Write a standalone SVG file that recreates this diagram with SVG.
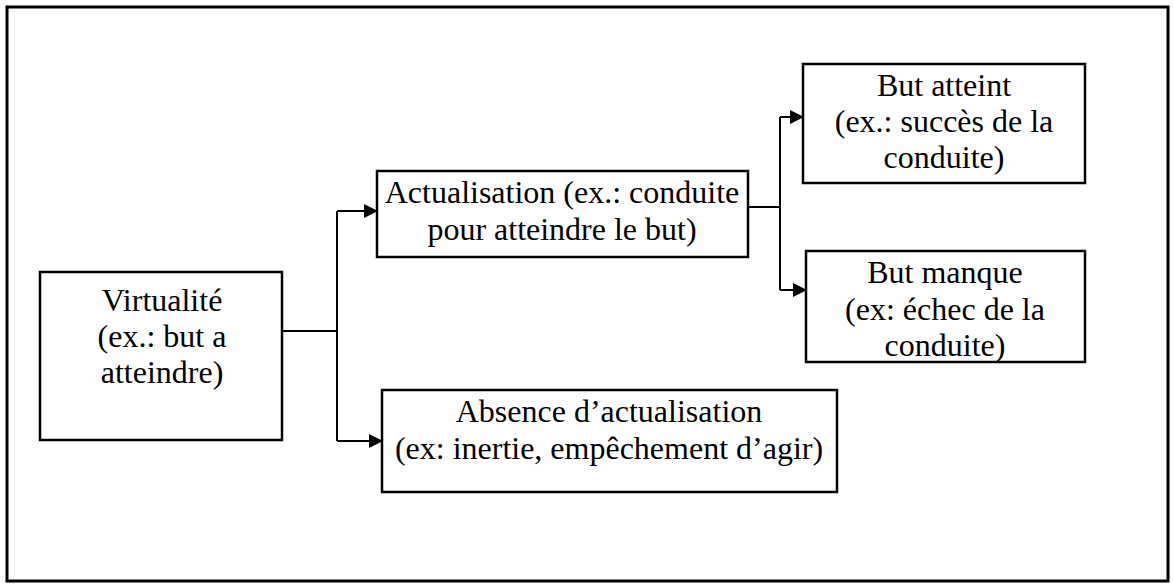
<svg xmlns="http://www.w3.org/2000/svg" width="1173" height="584" viewBox="0 0 1173 584">
  <style>
    .box { fill: #fff; stroke: #000; stroke-width: 2.5; }
    .lbl { font-family: "Liberation Serif", "Times New Roman", serif; font-size: 32px; fill: #000; text-anchor: middle; }
    .wire { fill: none; stroke: #000; stroke-width: 2; }
  </style>
  <defs>
    <marker id="arrow" markerWidth="14" markerHeight="14" refX="14" refY="7" orient="auto" markerUnits="userSpaceOnUse">
      <path d="M0,0 L14,7 L0,14 Z" fill="#000"/>
    </marker>
  </defs>

  <!-- page frame -->
  <rect x="7" y="7" width="1161" height="574" fill="#fff" stroke="#000" stroke-width="3"/>

  <!-- connectors -->
  <g id="connectors">
    <path class="wire" d="M282,331 H337"/>
    <path class="wire" d="M337,211 V441"/>
    <path class="wire" d="M337,211 H378" marker-end="url(#arrow)"/>
    <path class="wire" d="M337,441 H383" marker-end="url(#arrow)"/>
    <path class="wire" d="M748,207 H780"/>
    <path class="wire" d="M780,117 V290"/>
    <path class="wire" d="M780,117 H804" marker-end="url(#arrow)"/>
    <path class="wire" d="M780,290 H807" marker-end="url(#arrow)"/>
  </g>

  <g id="virtualite">
    <rect class="box" x="40" y="272" width="242" height="168"/>
    <text class="lbl" x="162" y="311">Virtualité</text>
    <text class="lbl" x="162" y="347">(ex.: but a</text>
    <text class="lbl" x="162" y="383">atteindre)</text>
  </g>

  <g id="actualisation">
    <rect class="box" x="377" y="171" width="371" height="86"/>
    <text class="lbl" x="562" y="203">Actualisation (ex.: conduite</text>
    <text class="lbl" x="562" y="240">pour atteindre le but)</text>
  </g>

  <g id="absence">
    <rect class="box" x="382" y="390" width="455" height="102"/>
    <text class="lbl" x="609" y="422">Absence d’actualisation</text>
    <text class="lbl" x="609" y="459">(ex: inertie, empêchement d’agir)</text>
  </g>

  <g id="but-atteint">
    <rect class="box" x="803" y="64" width="282" height="119"/>
    <text class="lbl" x="944" y="96">But atteint</text>
    <text class="lbl" x="944" y="132">(ex.: succès de la</text>
    <text class="lbl" x="944" y="168">conduite)</text>
  </g>

  <g id="but-manque">
    <rect class="box" x="806" y="251" width="279" height="111"/>
    <text class="lbl" x="945" y="283">But manque</text>
    <text class="lbl" x="945" y="320">(ex: échec de la</text>
    <text class="lbl" x="945" y="356">conduite)</text>
  </g>
</svg>
